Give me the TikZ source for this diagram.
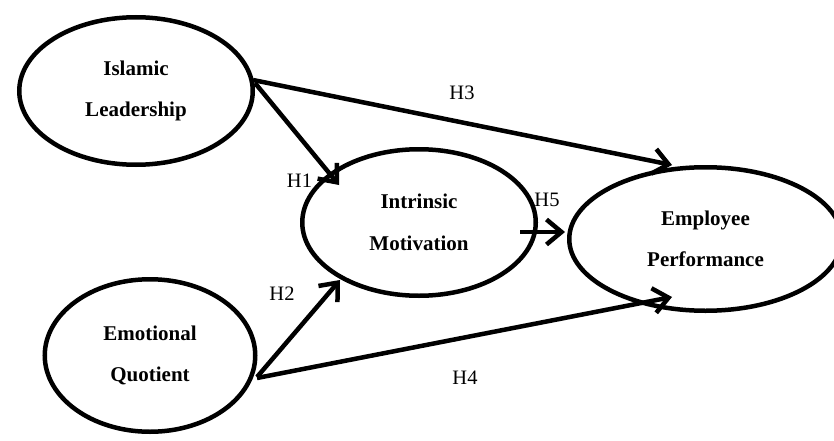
\documentclass[tikz,border=0pt]{standalone}
\usepackage{fontspec}
\setmainfont{Liberation Serif}
\usetikzlibrary{arrows.meta, shapes.geometric}

\begin{document}
\begin{tikzpicture}[x=1pt, y=1pt,
    construct/.style={draw, ellipse, line width=4.5pt, inner sep=0pt, align=center,
        font=\fontsize{21}{41.5}\selectfont\bfseries},
    link/.style={line width=4.5pt, -{Straight Barb[length=15pt, width=25pt]}},
    hlabel/.style={font=\fontsize{20.5}{24}\selectfont}]
    \useasboundingbox (0, 0) rectangle (834, 440);

    % Constructs
    \node[construct, minimum width=233.5pt, minimum height=147.5pt] (il) at (136, 349) {Islamic\\Leadership};
    \node[construct, minimum width=210.5pt, minimum height=152.5pt] (eq) at (150, 84.5) {Emotional\\Quotient};
    \node[construct, minimum width=233.5pt, minimum height=146.5pt] (im) at (419, 217.5) {Intrinsic\\Motivation};
    \node[construct, minimum width=272.5pt, minimum height=143.5pt] (ep) at (705.5, 201) {Employee\\Performance};

    % Hypothesised paths
    \draw[link] ([shift={(119,8)}]il.center) -- ([shift={(-80,37.5)}]im.center);
    \draw[link] ([shift={(107,-21.5)}]eq.center) -- ([shift={(-79,-57.5)}]im.center);
    \draw[link] ([shift={(117,11)}]il.center) -- ([shift={(-33.5,74)}]ep.center);
    \draw[link] ([shift={(107,-22.5)}]eq.center) -- ([shift={(-33.5,-58)}]ep.center);
    \draw[link] ([shift={(101,-9.5)}]im.center) -- ([shift={(-140.5,7)}]ep.center);

    % Labels
    \node[hlabel] (h1) at (299.5, 259) {H1};
    \node[hlabel] (h2) at (282, 146.5) {H2};
    \node[hlabel] (h3) at (462, 347) {H3};
    \node[hlabel] (h4) at (465, 62) {H4};
    \node[hlabel] (h5) at (547, 240) {H5};
\end{tikzpicture}
\end{document}
